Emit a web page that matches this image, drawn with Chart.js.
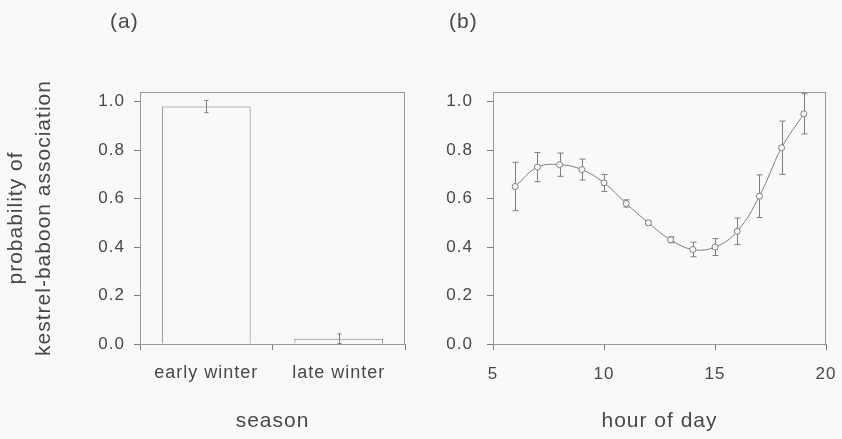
<!DOCTYPE html>
<html>
<head>
<meta charset="utf-8">
<script src="https://cdn.jsdelivr.net/npm/chart.js@4.4.1/dist/chart.umd.min.js"></script>
<style>
  body { margin: 0; background: #f9f9f9; }
  #wrap { position: relative; width: 842px; height: 439px; }
  canvas { position: absolute; top: 0; }
  .panel { position: absolute; top: 9px; line-height: 26px; font: 21px "Liberation Sans", Arial, sans-serif; letter-spacing: 1px; color: #484848; }
</style>
</head>
<body>
<div id="wrap">
  <canvas id="season" width="421" height="439" style="left:0"></canvas>
  <canvas id="hour" width="421" height="439" style="left:421px"></canvas>
  <div class="panel" style="left:110px">(a)</div>
  <div class="panel" style="left:449px">(b)</div>
</div>
<script>
// (a) association by season
const seasons = ["early winter", "late winter"];
const seasonProb = [0.98, 0.022];
const seasonErr = [0.025, 0.02];

// (b) association by hour of day
const hours = [6, 7, 8, 9, 10, 11, 12, 13, 14, 15, 16, 17, 18, 19];
const hourProb = [0.65, 0.73, 0.74, 0.72, 0.665, 0.58, 0.50, 0.43, 0.39, 0.40, 0.465, 0.61, 0.81, 0.95];
const hourErr = [0.10, 0.06, 0.048, 0.043, 0.035, 0.015, 0.008, 0.012, 0.03, 0.035, 0.055, 0.088, 0.11, 0.083];

const yTicks = [0, 0.2, 0.4, 0.6, 0.8, 1.0];
const hourTicks = [5, 10, 15, 20];

const grey = "#7e7e7e";
const frameGrey = "#999999";
const ink = "#484848";
const bg = "#f9f9f9";

Chart.defaults.font.family = '"Liberation Sans", Arial, sans-serif';
Chart.defaults.color = ink;
Chart.defaults.animation = false;
Chart.defaults.plugins.legend.display = false;
Chart.defaults.plugins.tooltip.enabled = false;

// the printed labels are set a little loose
const spacing = {
  id: "spacing",
  beforeLayout(chart) { chart.ctx.letterSpacing = "1px"; },
  beforeDraw(chart) { chart.ctx.letterSpacing = "1px"; }
};

// box round the plot area
const frame = {
  id: "frame",
  beforeDatasetsDraw(chart) {
    const a = chart.chartArea, ctx = chart.ctx;
    ctx.save();
    ctx.strokeStyle = frameGrey;
    ctx.lineWidth = 1;
    ctx.strokeRect(Math.round(a.left) + 0.5, Math.round(a.top) + 0.5,
      Math.round(a.right - a.left) - 1, Math.round(a.bottom - a.top));
    ctx.restore();
  }
};

// vertical error bars with small caps
function drawErr(chart, opts) {
  const meta = chart.getDatasetMeta(0);
  const ys = chart.scales.y, ctx = chart.ctx;
  const vals = chart.data.datasets[0].data;
  ctx.save();
  ctx.strokeStyle = grey;
  ctx.lineWidth = 1;
  meta.data.forEach((el, i) => {
    const v = typeof vals[i] === "object" ? vals[i].y : vals[i];
    const x = Math.round(el.x) + 0.5;
    const hi = ys.getPixelForValue(v + opts.err[i]);
    const lo = ys.getPixelForValue(v - opts.err[i]);
    ctx.beginPath();
    ctx.moveTo(x, hi); ctx.lineTo(x, lo);
    ctx.moveTo(x - opts.cap, hi); ctx.lineTo(x + opts.cap, hi);
    ctx.moveTo(x - opts.cap, lo); ctx.lineTo(x + opts.cap, lo);
    ctx.stroke();
  });
  ctx.restore();
}
const errorBars = {
  id: "errorBars",
  beforeDatasetsDraw(chart, args, opts) { if (opts.under) drawErr(chart, opts); },
  afterDatasetsDraw(chart, args, opts) { if (!opts.under) drawErr(chart, opts); }
};

// fixed axis sizes so both plot boxes sit where they should
function fixSize(w, h) {
  return s => {
    if (w) s.width = w;
    if (h) s.height = h;
    s.paddingLeft = s.paddingRight = s.paddingTop = s.paddingBottom = 0;
  };
}

function probAxis(width, pad, title) {
  return {
    min: 0,
    max: 1.04,
    afterFit: fixSize(width, 0),
    afterBuildTicks: s => { s.ticks = yTicks.map(v => ({ value: v })); },
    ticks: { font: { size: 17 }, padding: pad, callback: v => v.toFixed(1) },
    grid: { drawOnChartArea: false, color: grey, tickLength: 6 },
    border: { display: false },
    title: title
  };
}

new Chart(document.getElementById("season"), {
  type: "bar",
  data: {
    labels: seasons,
    datasets: [{
      data: seasonProb,
      backgroundColor: bg,
      borderColor: grey,
      borderWidth: 1,
      categoryPercentage: 1,
      barPercentage: 0.67
    }]
  },
  options: {
    responsive: false,
    devicePixelRatio: 1,
    layout: { padding: { top: 92, right: 16, left: 0, bottom: 0 } },
    scales: {
      x: {
        afterFit: fixSize(0, 95),
        ticks: { font: { size: 18 }, padding: 12 },
        grid: { drawOnChartArea: false, offset: true, color: grey, tickLength: 6 },
        border: { display: false },
        title: { display: true, text: "season", font: { size: 21 }, padding: { top: 0, bottom: 5 } }
      },
      y: probAxis(140, 9, {
        display: true,
        text: ["probability of", "kestrel-baboon association"],
        font: { size: 21, lineHeight: 1.3 },
        padding: { top: 3, bottom: 0 }
      })
    },
    plugins: { errorBars: { err: seasonErr, cap: 2, under: false } }
  },
  plugins: [spacing, frame, errorBars]
});

new Chart(document.getElementById("hour"), {
  type: "line",
  data: {
    datasets: [{
      data: hours.map((h, i) => ({ x: h, y: hourProb[i] })),
      borderColor: grey,
      borderWidth: 1,
      tension: 0.4,
      pointRadius: 3,
      pointBorderWidth: 1,
      pointBackgroundColor: bg,
      pointBorderColor: grey
    }]
  },
  options: {
    responsive: false,
    devicePixelRatio: 1,
    layout: { padding: { top: 92, right: 16, left: 0, bottom: 0 } },
    scales: {
      x: {
        type: "linear",
        min: 5,
        max: 20,
        afterFit: fixSize(0, 95),
        afterBuildTicks: s => { s.ticks = hourTicks.map(v => ({ value: v })); },
        ticks: { font: { size: 17 }, padding: 14 },
        grid: { drawOnChartArea: false, color: grey, tickLength: 6 },
        border: { display: false },
        title: { display: true, text: "hour of day", font: { size: 21 }, padding: { top: 0, bottom: 5 } }
      },
      y: probAxis(72, 14, { display: false })
    },
    plugins: { errorBars: { err: hourErr, cap: 3, under: true } }
  },
  plugins: [spacing, frame, errorBars]
});
</script>
</body>
</html>
